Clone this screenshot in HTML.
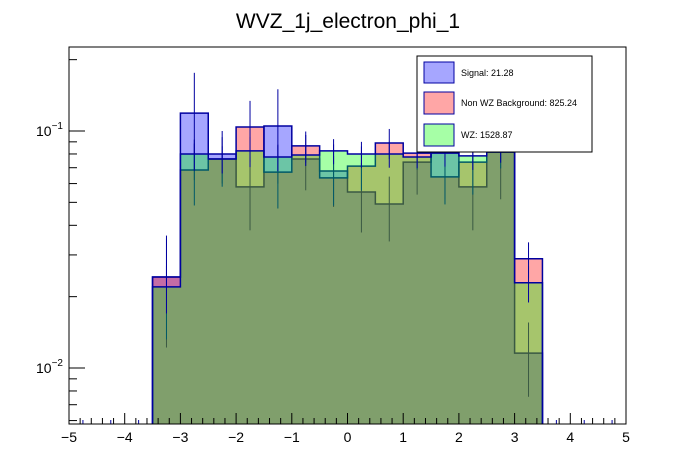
<!DOCTYPE html>
<html><head><meta charset="utf-8"><style>
html,body{margin:0;padding:0;background:#fff;}
svg{display:block;font-family:"Liberation Sans",Arial,sans-serif;}
</style></head><body>
<svg id="chart" width="696" height="472" viewBox="0 0 696 472">
<text x="348" y="28" text-anchor="middle" font-size="21" fill="#000">WVZ_1j_electron_phi_1</text>
<g id="plot"></g><g id="axes"></g>
<g>
<rect x="417" y="56" width="175" height="96" fill="#fff" stroke="#000" stroke-width="1"/>
<rect x="424" y="62" width="30" height="21" fill="#a6a6ff" stroke="#0000a0"/>
<text x="461" y="76" font-size="9">Signal: 21.28</text>
<rect x="424" y="92" width="30" height="22" fill="#ffa6a6" stroke="#0000a0"/>
<text x="461" y="106" font-size="9">Non WZ Background: 825.24</text>
<rect x="424" y="124" width="30" height="22" fill="#a6ffa6" stroke="#0000a0"/>
<text x="461" y="138" font-size="9">WZ: 1528.87</text>
</g>
</svg>
<script>
const binEdges = [-3.5,-3,-2.5,-2,-1.5,-1,-0.5,0,0.5,1,1.5,2,2.5,3,3.5];
const signalVals = [0.0242,0.119,0.080,0.0581,0.105,0.0762,0.0678,0.0553,0.0492,0.0739,0.0815,0.0581,0.0815,0.01156];
const nonwzVals = [0.0242,0.0685,0.0762,0.104,0.0671,0.0865,0.0634,0.0711,0.089,0.0807,0.064,0.0739,0.0815,0.0289];
const wzVals = [0.022,0.080,0.0762,0.0824,0.0777,0.0792,0.0824,0.080,0.080,0.0777,0.0807,0.0785,0.0815,0.0229];
const signalErr = [0.012,0.057,0.02,0.02,0.045,0.02,0.02,0.018,0.015,0.02,0.03,0.02,0.03,0.004];
const nonwzErr = [0.011,0.02,0.018,0.03,0.02,0.013,0.015,0.015,0.013,0.012,0.015,0.02,0.012,0.005];
const wzErr = [0.005,0.012,0.01,0.012,0.01,0.008,0.01,0.01,0.01,0.008,0.01,0.01,0.008,0.004];
const xTicks = [-5,-4,-3,-2,-1,0,1,2,3,4,5];

const X0=69,X1=626,Y0=47,Y1=424;
const xs = v => X0 + (v+5)/10*(X1-X0);
const ys = v => 131 - 237*(Math.log10(v)+1);
const NS='http://www.w3.org/2000/svg';
function mk(tag, attrs, parent){const e=document.createElementNS(NS,tag);for(const k in attrs)e.setAttribute(k,attrs[k]);parent.appendChild(e);return e;}
const plot=document.getElementById('plot'),axes=document.getElementById('axes');

const series=[
 {vals:signalVals,err:signalErr,fill:'rgba(0,0,255,0.35)',line:'#0000a0',name:'signal'},
 {vals:nonwzVals,err:nonwzErr,fill:'rgba(255,0,0,0.35)',line:'#0000a0',name:'nonwz'},
 {vals:wzVals,err:wzErr,fill:'rgba(0,255,0,0.35)',line:'#0000a0',name:'wz'}];
series.forEach(s=>{
 let d='M'+xs(binEdges[0])+','+Y1;
 s.vals.forEach((v,i)=>{const y=Math.min(ys(v),Y1);d+=' L'+xs(binEdges[i])+','+y+' L'+xs(binEdges[i+1])+','+y;});
 d+=' L'+xs(binEdges[binEdges.length-1])+','+Y1+' Z';
 const f=mk('path',{d:d,fill:s.fill,stroke:'none'},plot);
 
 
 const l=mk('path',{d:d.replace(' Z',''),fill:'none',stroke:s.line,'stroke-width':1.5},plot);
 
 
 s.vals.forEach((v,i)=>{
  const cx=(xs(binEdges[i])+xs(binEdges[i+1]))/2;
  const lo=Math.max(v-s.err[i],0.001);
  const e=mk('line',{x1:cx,x2:cx,y1:Math.max(ys(v+s.err[i]),Y0),y2:Math.min(ys(lo),Y1),stroke:s.line,'stroke-width':1},plot);
  
  
 });
});
for(let b=-5;b<5;b+=0.5){ if(b>=-3.5&&b<3.5)continue; const cx=xs(b+0.25);
 const m=mk('line',{x1:cx,x2:cx,y1:Y1-4,y2:Y1,stroke:'#0000a0','stroke-width':1},axes);
 
 
}
const frame=mk('rect',{x:X0,y:Y0,width:X1-X0,height:Y1-Y0,fill:'none',stroke:'#000','stroke-width':1},axes);


for(let v=-5;v<=5.001;v+=0.2){const x=xs(v);const major=Math.abs(v-Math.round(v))<1e-6;
 mk('line',{x1:x,x2:x,y1:Y1,y2:Y1-(major?11:6),stroke:'#000','stroke-width':1},axes);}
xTicks.forEach(t=>{const tx=mk('text',{x:xs(t),y:442,'text-anchor':'middle','font-size':14},axes);tx.textContent=String(t).replace('-','\u2212');
 
 });
[0.001,0.01,0.1].forEach(dec=>{for(let k=1;k<10;k++){const v=dec*k;const y=ys(v);if(y<Y0||y>Y1)continue;
 mk('line',{x1:X0,x2:X0+(k===1?16:8),y1:y,y2:y,stroke:'#000','stroke-width':1},axes);}});
[['−1',0.1],['−2',0.01]].forEach(([ex,v])=>{const t=mk('text',{x:36,y:ys(v)+5,'font-size':14},axes);
 t.innerHTML='10<tspan dy="-7" font-size="10">'+ex+'</tspan>';
 
 });
</script>
</body></html>
